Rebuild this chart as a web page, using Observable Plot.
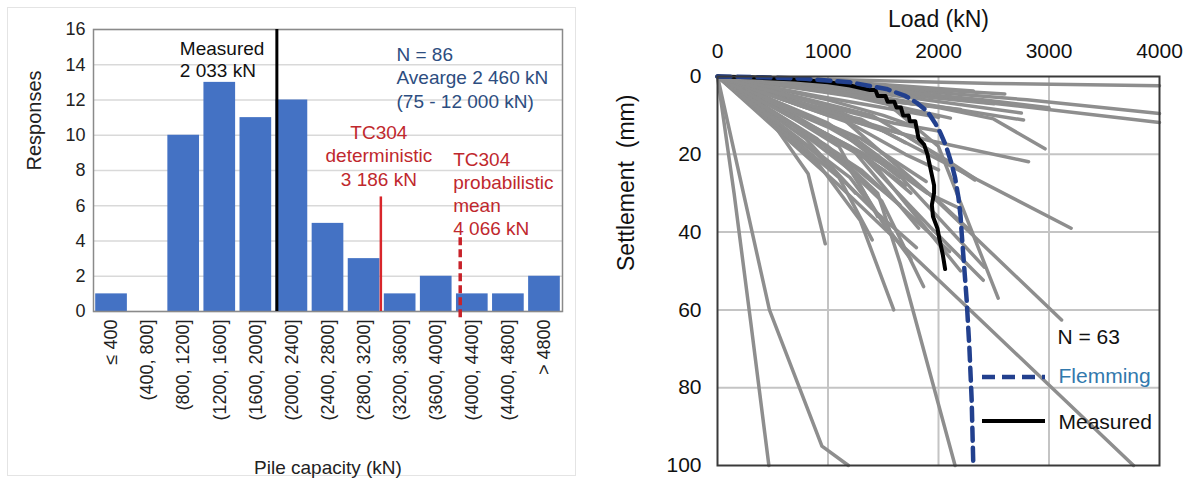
<!DOCTYPE html>
<html>
<head>
<meta charset="utf-8">
<script src="https://cdn.jsdelivr.net/npm/d3@7"></script>
<script src="https://cdn.jsdelivr.net/npm/@observablehq/plot@0.6"></script>
<style>
  html, body { margin: 0; padding: 0; background: #fff; }
  #wrap { position: relative; width: 1188px; height: 479px; overflow: hidden; font-family: "Liberation Sans", Arial, sans-serif; }
  #leftBox { position: absolute; left: 7px; top: 7px; width: 569px; height: 469px; border: 1px solid #e4e4e4; box-sizing: border-box; }
  #left { position: absolute; left: 0; top: 0; }
  #right { position: absolute; left: 600px; top: 0; }
  svg { overflow: visible; }
</style>
</head>
<body>
<div id="wrap">
  <div id="leftBox"></div>
  <div id="left"></div>
  <div id="right"></div>
</div>
<script>
// ---------- Left panel data (histogram) ----------
const bins = ["≤ 400", "(400, 800]", "(800, 1200]", "(1200, 1600]", "(1600, 2000]", "(2000, 2400]",
  "(2400, 2800]", "(2800, 3200]", "(3200, 3600]", "(3600, 4000]", "(4000, 4400]", "(4400, 4800]", "> 4800"];
const responses = [1, 0, 10, 13, 11, 12, 5, 3, 1, 2, 1, 1, 2];
const binWidth = 400; // kN per class
const measuredCapacity = 2033;
const deterministicCapacity = 3186;
const probabilisticCapacity = 4066;
const yTicksLeft = [0, 2, 4, 6, 8, 10, 12, 14, 16];
const measuredLabel = "Measured\n2 033 kN";
const summaryLabel = "N = 86\nAvearge 2 460 kN\n(75 - 12 000 kN)";
const deterministicLabel = "TC304\ndeterministic\n3 186 kN";
const probabilisticLabel = "TC304\nprobabilistic\nmean\n4 066 kN";
const deterministicTop = 6.5;   // responses-axis extent of the red rule
const probabilisticTop = 4.2;
const probabilisticBottom = -0.35;

// ---------- Right panel data (load–settlement curves) [load kN, settlement mm] ----------
const grayCurves = [
  [[0,0],[150,30],[300,63],[465,100]],
  [[0,0],[470,60],[945,95],[1185,100]],
  [[0,0],[1000,18],[1450,30],[1653,48],[2150,100]],
  [[0,0],[1100,28],[2255,59.2],[3765,100]],
  [[0,0],[1100,10],[1950,31],[3114,62.6]],
  [[0,0],[1500,6],[2000,18],[2540,57]],
  [[0,0],[1500,14],[3200,39]],
  [[0,0],[1300,20],[1925,38.7],[2405,52.4]],
  [[0,0],[900,22],[1292,37],[1595,60]],
  [[0,0],[900,16],[1486,32],[1865,54]],
  [[0,0],[500,12],[820,25],[975,43]],
  [[0,0],[1200,18],[1820,39]],
  [[0,0],[1300,16],[1888,27]],
  [[0,0],[1100,14],[1651,26]],
  [[0,0],[1700,15],[2329,26.6]],
  [[0,0],[1600,24],[2414,49]],
  [[0,0],[700,10],[1350,21],[1700,28]],
  [[0,0],[600,14],[1100,26],[1400,42]],
  [[0,0],[800,8],[1300,11],[1700,17]],
  [[0,0],[1000,12],[1900,30],[2200,34]],
  [[0,0],[600,6],[1100,9],[1500,14]],
  [[0,0],[400,4],[900,8],[1300,12]],
  [[0,0],[1000,6],[1500,10],[1800,13]],
  [[0,0],[1400,10],[2100,22],[2333,26.3]],
  [[0,0],[900,20],[1400,34],[1800,44]],
  [[0,0],[700,13],[1200,24],[1550,40]],
  [[0,0],[1000,15],[1500,24],[1750,30]],
  [[0,0],[1200,12],[1700,20],[2000,24]],
  [[0,0],[500,7],[1000,13],[1250,17]],
  [[0,0],[800,16],[1250,30]],
  [[0,0],[1100,20],[1650,33]],
  [[0,0],[1200,26],[1750,47]],
  [[0,0],[1300,24],[2100,45]],
  [[0,0],[1400,22],[2200,50]],
  [[0,0],[1200,15],[2000,32],[2300,40]],
  [[0,0],[700,11],[1100,18],[1450,36]],
  [[0,0],[1000,0.8],[2500,1.8],[4000,2.4]],
  [[0,0],[1200,1.5],[2315,3.7]],
  [[0,0],[1500,3],[2800,6],[4000,9.5]],
  [[0,0],[1400,3.5],[2700,7.5],[4000,11.8]],
  [[0,0],[1500,4.5],[2750,9.4]],
  [[0,0],[1300,4.5],[2770,11.2]],
  [[0,0],[1200,5],[2108,10.7]],
  [[0,0],[1000,4],[2000,8],[2498,10.9],[2964,18.6]],
  [[0,0],[1000,10],[1926,16.5],[2815,21.9]],
  [[0,0],[1000,2.5],[1800,5],[2500,7]],
  [[0,0],[800,3],[1600,6.5],[2200,8.5]],
  [[0,0],[900,5],[1700,9],[2000,10.5]],
  [[0,0],[1100,2],[2000,3.5],[2600,4.5]],
  [[0,0],[700,2.5],[1400,5.5],[1900,7.5]],
  [[0,0],[1300,3],[2400,6],[3000,8]],
  [[0,0],[900,7],[1600,12],[2000,14]]
];
const flemming = [[0,0],[400,0.2],[800,0.6],[1200,1.5],[1530,3.2],[1700,5],[1800,6.7],[1900,9],[1970,12],
  [2016,14.4],[2070,18],[2119,22.5],[2150,26],[2180,31],[2200,36],[2210,40.4],[2230,48],[2255,57.5],
  [2280,70],[2300,83],[2315,100]];
const measuredCurve = [[0,0],[300,0.2],[700,0.8],[1000,1.5],[1200,2.3],[1380,3.5],[1430,3.5],[1450,5],
  [1520,5],[1540,6.5],[1600,6.5],[1620,8],[1660,8],[1680,10],[1730,10],[1740,11.5],[1790,11.5],[1800,13],
  [1820,16],[1870,17.5],[1900,20],[1930,24],[1960,28],[1960,30],[1940,33],[1950,36],[1990,39],[2010,42],
  [2040,46],[2060,49.5]];
const loadTicks = [0, 1000, 2000, 3000, 4000];
const settlementTicks = [0, 20, 40, 60, 80, 100];
const legendLabels = ["N = 63", "Flemming", "Measured"];

const FONT = "'Liberation Sans', Arial, Helvetica, sans-serif";
const BLUE_BAR = "#4472c4";
const RED_TEXT = "#c0282d";
const RED_LINE = "#d8262b";

// ---------- Left plot ----------
const hist = bins.map((b, i) => ({bin: b, n: responses[i], lo: i * binWidth, hi: (i + 1) * binWidth}));

const left = Plot.plot({
  width: 580, height: 479,
  marginLeft: 93, marginRight: 18, marginTop: 29, marginBottom: 168,
  style: {fontFamily: FONT, background: "transparent", overflow: "visible", color: "#404040"},
  x: {domain: [0, bins.length * binWidth], axis: null},
  y: {domain: [0, 16], axis: null},
  marks: [
    Plot.gridY(yTicksLeft, {stroke: "#d9d9d9", strokeOpacity: 1, strokeWidth: 1.5}),
    Plot.rectY(hist, {x1: "lo", x2: "hi", y: "n", fill: BLUE_BAR, insetLeft: 2.2, insetRight: 2.2}),
    Plot.frame({stroke: "#8a8a8a", strokeWidth: 1.5}),
    Plot.ruleX([measuredCapacity], {y1: 0, y2: 16, stroke: "#000", strokeWidth: 3}),
    Plot.ruleX([deterministicCapacity], {y1: 0, y2: deterministicTop, stroke: RED_LINE, strokeWidth: 2.5}),
    Plot.ruleX([probabilisticCapacity], {y1: probabilisticBottom, y2: probabilisticTop, stroke: "#c8222a", strokeWidth: 3.5, strokeDasharray: "8,4"}),
    Plot.axisY(yTicksLeft, {tickSize: 0, tickPadding: 8, fontSize: 18, fill: "#222", label: null}),
    Plot.text(hist, {x: d => (d.lo + d.hi) / 2, y: 0, text: "bin", rotate: -90, textAnchor: "end",
      dy: 8, fontSize: 18, fill: "#222"}),
    Plot.text([measuredLabel], {x: measuredCapacity, y: 16, text: d => d, textAnchor: "start", lineAnchor: "top",
      dx: -97, dy: 10, fontSize: 19, lineHeight: 1.15, fill: "#111"}),
    Plot.text([summaryLabel], {frameAnchor: "top-right", text: d => d, textAnchor: "start", lineAnchor: "top",
      dx: -166, dy: 15, fontSize: 19, lineHeight: 1.23, fill: "#2d4d80"}),
    Plot.text([deterministicLabel], {x: deterministicCapacity, y: 16, text: d => d, textAnchor: "middle", lineAnchor: "top",
      dx: -2, dy: 93, fontSize: 19, lineHeight: 1.23, fill: RED_TEXT}),
    Plot.text([probabilisticLabel], {x: probabilisticCapacity, y: 16, text: d => d, textAnchor: "start", lineAnchor: "top",
      dx: -7, dy: 120, fontSize: 19, lineHeight: 1.22, fill: RED_TEXT}),
    Plot.text(["Responses"], {frameAnchor: "left", text: d => d, rotate: -90, dx: -59, fontSize: 20, fill: "#222"}),
    Plot.text(["Pile capacity (kN)"], {frameAnchor: "bottom", text: d => d, dy: 162, fontSize: 19, fill: "#222"})
  ]
});
document.getElementById("left").appendChild(left);

// ---------- Right plot ----------
const grayData = grayCurves.flatMap((c, i) => c.map(([load, s]) => ({id: i, load, s})));

const right = Plot.plot({
  width: 588, height: 479,
  marginLeft: 117, marginRight: 29, marginTop: 76, marginBottom: 14,
  style: {fontFamily: FONT, background: "transparent", overflow: "visible"},
  x: {domain: [0, 4000], axis: null},
  y: {domain: [0, 100], reverse: true, axis: null},
  marks: [
    Plot.gridX([1000, 2000, 3000], {stroke: "#c4c4c4", strokeOpacity: 1, strokeWidth: 2}),
    Plot.gridY([20, 40, 60, 80], {stroke: "#c4c4c4", strokeOpacity: 1, strokeWidth: 2}),
    Plot.line(grayData, {x: "load", y: "s", z: "id", stroke: "#8e8e8e", strokeWidth: 3.5, strokeLinecap: "round"}),
    Plot.line(measuredCurve, {x: d => d[0], y: d => d[1], stroke: "#000", strokeWidth: 4}),
    Plot.line(flemming, {x: d => d[0], y: d => d[1], stroke: "#22408e", strokeWidth: 4.5, strokeDasharray: "13,7"}),
    Plot.frame({stroke: "#3a3a3a", strokeWidth: 2}),
    Plot.axisX(loadTicks, {anchor: "top", tickSize: 0, tickPadding: 19, fontSize: 21, fill: "#111", label: null, tickFormat: d => String(d)}),
    Plot.axisY(settlementTicks, {tickSize: 0, tickPadding: 16, fontSize: 21, fill: "#111", label: null, tickFormat: d => String(d)}),
    Plot.text(["Load (kN)"], {frameAnchor: "top", text: d => d, lineAnchor: "bottom", dy: -50, fontSize: 23, fill: "#111"}),
    Plot.text(["Settlement \u00a0(mm)"], {frameAnchor: "left", text: d => d, rotate: -90, dx: -91, fontSize: 23, fill: "#111"}),
    Plot.text([legendLabels[0]], {frameAnchor: "top-right", text: d => d, textAnchor: "start", lineAnchor: "bottom", dx: -102, dy: 267, fontSize: 21, fill: "#111"}),
    Plot.text([legendLabels[1]], {frameAnchor: "top-right", text: d => d, textAnchor: "start", lineAnchor: "bottom", dx: -101, dy: 306, fontSize: 21, fill: "#3279ad"}),
    Plot.text([legendLabels[2]], {frameAnchor: "top-right", text: d => d, textAnchor: "start", lineAnchor: "bottom", dx: -101, dy: 352, fontSize: 21, fill: "#111"})
  ]
});
document.getElementById("right").appendChild(right);

// legend line samples, placed relative to the frame's right edge
const frameRight = 588 - 29, frameTop = 76;
const svgR = d3.select(right);
svgR.append("line").attr("x1", frameRight - 177).attr("x2", frameRight - 114)
  .attr("y1", frameTop + 301).attr("y2", frameTop + 301)
  .attr("stroke", "#22408e").attr("stroke-width", 4.5).attr("stroke-dasharray", "13,7");
svgR.append("line").attr("x1", frameRight - 177).attr("x2", frameRight - 114)
  .attr("y1", frameTop + 345).attr("y2", frameTop + 345)
  .attr("stroke", "#000").attr("stroke-width", 4);
</script>
</body>
</html>
